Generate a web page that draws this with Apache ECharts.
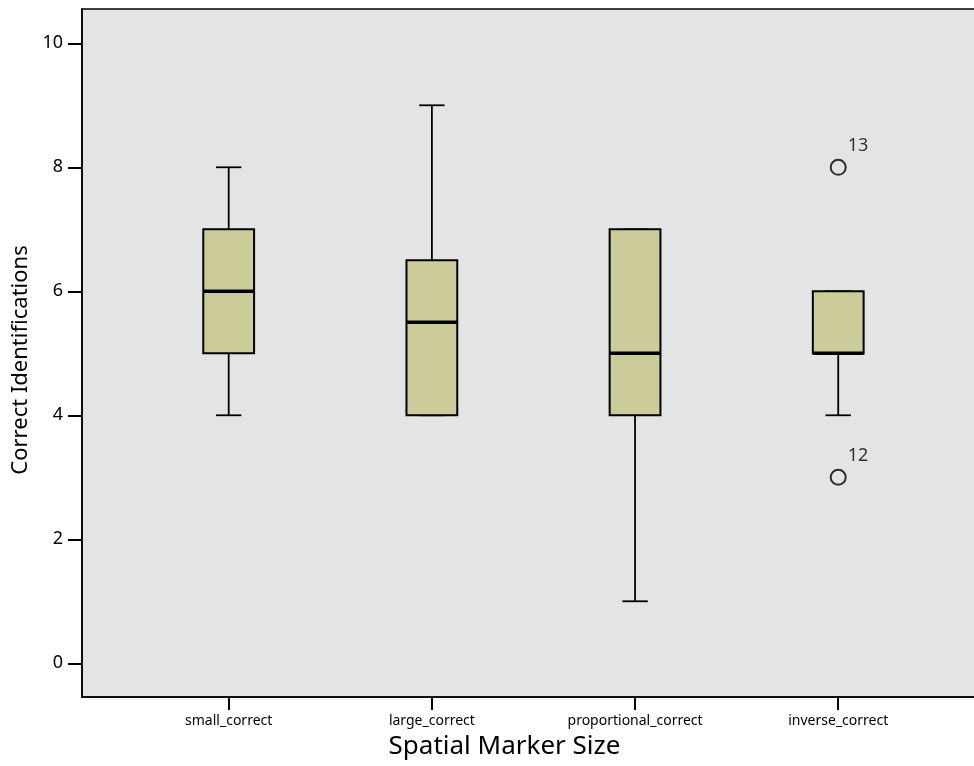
<!DOCTYPE html>
<html>
<head>
<meta charset="utf-8">
<script src="https://cdn.jsdelivr.net/npm/echarts@6/dist/echarts.min.js"></script>
<style>
html,body{margin:0;padding:0;background:#fff;}
#main{width:974px;height:766px;}
</style>
</head>
<body>
<div id="main"></div>
<script>
const categories = ['small_correct', 'large_correct', 'proportional_correct', 'inverse_correct'];
const minVals = [4, 4, 1, 4];
const q1Vals = [5, 4, 4, 5];
const medianVals = [6, 5.5, 5, 5];
const q3Vals = [7, 6.5, 7, 6];
const maxVals = [8, 9, 7, 6];
const outlierCategory = [4, 4];
const outlierVals = [8, 3];
const outlierLabels = ['13', '12'];
const yTicks = [0, 2, 4, 6, 8, 10];
const xTicks = [1, 2, 3, 4];

const FONT = 'Noto Sans';
const boxData = categories.map((c, i) => [i + 1, minVals[i], q1Vals[i], medianVals[i], q3Vals[i], maxVals[i]]);
const outlierData = outlierVals.map((v, i) => ({ value: [outlierCategory[i], v], label: { formatter: outlierLabels[i] } }));

const chart = echarts.init(document.getElementById('main'), null, { renderer: 'canvas' });
chart.setOption({
  animation: false,
  backgroundColor: '#ffffff',
  grid: {
    left: 82, right: -3, top: 9, bottom: 69,
    outerBoundsMode: 'none', containLabel: false,
    show: true, backgroundColor: '#e4e4e4', borderColor: '#000', borderWidth: 1.5
  },
  xAxis: {
    type: 'value', min: 0.278, max: 4.683,
    name: 'Spatial Marker Size', nameLocation: 'middle', nameGap: 37,
    nameTextStyle: { fontFamily: FONT, fontSize: 26, color: '#000', padding: [0, 50, 0, 0] },
    axisLine: { show: true, onZero: false, lineStyle: { color: '#000', width: 1.5 } },
    axisTick: { show: true, length: 13, customValues: xTicks, lineStyle: { color: '#000', width: 2 } },
    axisLabel: {
      customValues: xTicks, margin: 17, fontFamily: FONT, fontSize: 14, color: '#000',
      formatter: v => categories[Math.round(v) - 1] || ''
    },
    splitLine: { show: false }
  },
  yAxis: {
    type: 'value', min: -0.544, max: 10.553,
    name: 'Correct Identifications', nameLocation: 'middle', nameGap: 46, nameRotate: 90,
    nameTextStyle: { fontFamily: FONT, fontSize: 22, color: '#000', padding: [0, 14, 0, 0] },
    axisLine: { show: true, onZero: false, lineStyle: { color: '#000', width: 1.5 } },
    axisTick: { show: true, length: 14, customValues: yTicks, lineStyle: { color: '#000', width: 2 } },
    axisLabel: { customValues: yTicks, margin: 19, fontFamily: FONT, fontSize: 18, color: '#000' },
    splitLine: { show: false }
  },
  series: [
    {
      type: 'custom',
      data: boxData,
      encode: { x: 0, y: [1, 2, 3, 4, 5] },
      renderItem: function (params, api) {
        const x = api.value(0);
        const lo = api.coord([x, api.value(1)]);
        const q1 = api.coord([x, api.value(2)]);
        const med = api.coord([x, api.value(3)]);
        const q3 = api.coord([x, api.value(4)]);
        const hi = api.coord([x, api.value(5)]);
        const unit = api.size([1, 0])[0];
        const bw = unit * 0.25;
        const cw = bw / 2;
        const cx = q1[0];
        const ls = { stroke: '#000', lineWidth: 1.8, fill: null };
        return {
          type: 'group',
          children: [
            { type: 'line', shape: { x1: cx, y1: q3[1], x2: cx, y2: hi[1] }, style: ls },
            { type: 'line', shape: { x1: cx - cw / 2, y1: hi[1], x2: cx + cw / 2, y2: hi[1] }, style: ls },
            { type: 'line', shape: { x1: cx, y1: q1[1], x2: cx, y2: lo[1] }, style: ls },
            { type: 'line', shape: { x1: cx - cw / 2, y1: lo[1], x2: cx + cw / 2, y2: lo[1] }, style: ls },
            { type: 'rect', shape: { x: cx - bw / 2, y: q3[1], width: bw, height: q1[1] - q3[1] },
              style: { fill: '#cccc9a', stroke: '#000', lineWidth: 2 } },
            { type: 'line', shape: { x1: cx - bw / 2, y1: med[1], x2: cx + bw / 2, y2: med[1] },
              style: { stroke: '#000', lineWidth: 3.5 } }
          ]
        };
      }
    },
    {
      type: 'scatter',
      data: outlierData,
      symbol: 'circle',
      symbolSize: 15,
      itemStyle: { color: 'rgba(0,0,0,0)', borderColor: '#000', borderWidth: 2 },
      label: {
        show: true, position: 'right', offset: [-1, -21], distance: 2,
        fontFamily: FONT, fontSize: 18, color: '#000'
      }
    }
  ]
});
</script>
</body>
</html>
